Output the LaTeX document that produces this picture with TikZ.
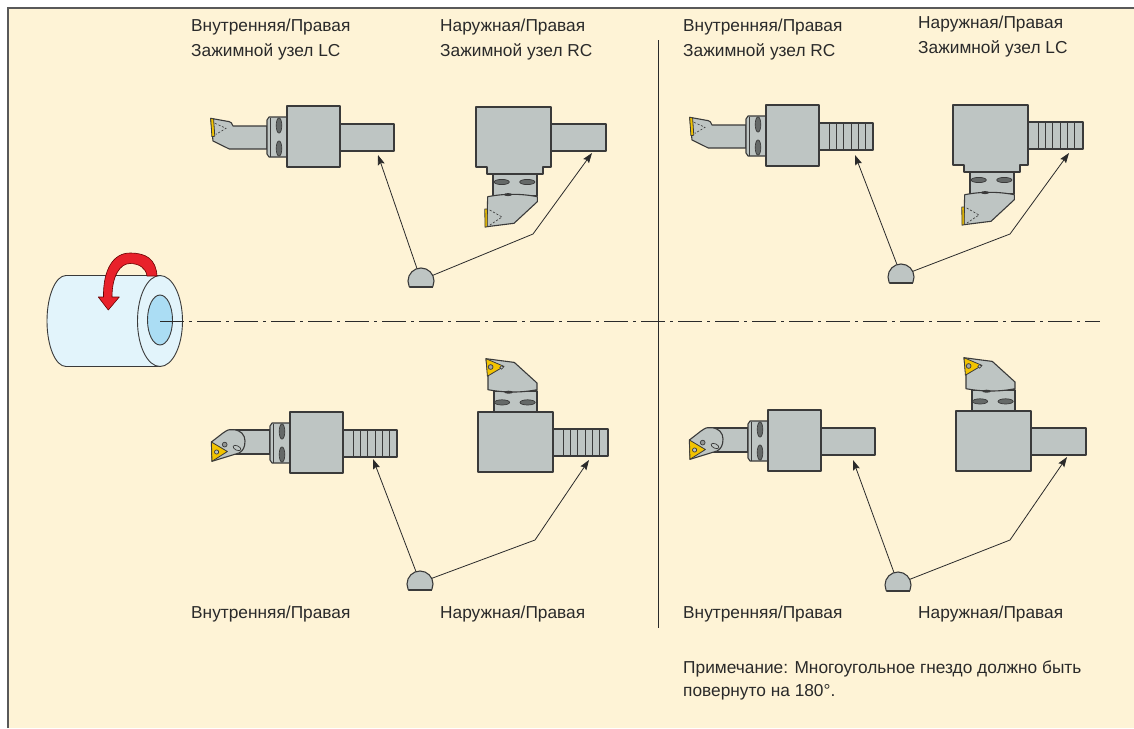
\documentclass[tikz,border=0pt]{standalone}
\usepackage{fontspec}
\setmainfont{Liberation Sans}
\usetikzlibrary{arrows.meta}

\definecolor{paper}{HTML}{FEF3D6}
\definecolor{toolgray}{HTML}{BEC5C3}
\definecolor{tooledge}{HTML}{3A3A3A}
\definecolor{slotgray}{HTML}{656968}
\definecolor{insertyellow}{HTML}{F2C300}
\definecolor{cylface}{HTML}{E2F4FB}
\definecolor{cylbore}{HTML}{ABDDF4}
\definecolor{spinred}{HTML}{E8212A}
\definecolor{inkgray}{HTML}{2A2A2A}

\tikzset{
  toolpart/.style={fill=toolgray, draw=tooledge, line width=1.1pt, line join=round},
  toolline/.style={draw=tooledge, line width=0.9pt},
  slotmark/.style={fill=slotgray, draw=tooledge, line width=0.7pt},
  insertpart/.style={fill=insertyellow, draw=tooledge, line width=0.8pt, line join=round},
  cutline/.style={draw=tooledge, line width=0.6pt, dash pattern=on 2.2pt off 1.6pt},
  leader/.style={draw=inkgray, line width=0.8pt, -{Stealth[length=10pt, width=7pt, inset=1.5pt]}},
  lbl/.style={font=\fontsize{17.3}{20}\selectfont, text=inkgray, inner sep=0pt, anchor=base west},
  frameline/.style={draw=black!65, line width=1.5pt},
}

% Boring bar holder: #1 origin (top-left of clamping block),
% #2 head style (1 = grooving insert, 2 = triangular insert), #3 serrated shank (0/1)
\newcommand{\InnerTool}[3]{%
  \begin{scope}[shift={#1}]
    % shank
    \filldraw[toolpart] (53,18) rectangle (107,45);
    \ifnum#3=1
      \foreach \k in {0,...,5} \draw[toolline] ({63.5+7.2*\k},18) -- ++(0,27);
    \fi
    % bar and cutting head
    \ifnum#2=1
      \filldraw[toolpart] (-20,20) -- (-54,20) .. controls (-55,17) and (-56,16) .. (-58,15.6)
        -- (-76.3,12.3) -- (-74,35) -- (-57.7,43) -- (-20,43) -- cycle;
      \filldraw[insertpart] (-76.3,12.3) -- (-73.4,13) -- (-72.2,30.2) -- (-75.1,30.6) -- cycle;
      \draw[cutline] (-72,17.3) -- (-61,22.3) -- (-71,28.3);
    \else
      \filldraw[toolpart] (-60,18) rectangle (-20,42);
      \filldraw[toolpart] (-78.6,30) -- (-67,21) .. controls (-62,17.6) .. (-57,17.7)
        .. controls (-49,18) and (-45,23) .. (-45,29) .. controls (-45,35) and (-47,39) .. (-51,41)
        -- (-64,45) -- (-78,49.3) -- cycle;
      \filldraw[fill=slotgray!70, draw=tooledge, line width=0.7pt] (-65.3,32.6) circle[radius=2.4];
      \draw[toolline, line width=0.7pt, rotate around={-25:(-53,36)}] (-53,36) ellipse[x radius=4.2, y radius=2.2];
      \filldraw[insertpart] (-78.6,30) -- (-62.6,39.5) -- (-78,49.3) -- cycle;
      \filldraw[fill=toolgray, draw=tooledge, line width=0.7pt] (-73.4,40) circle[radius=2.1];
    \fi
    % collar with clamping slots
    \filldraw[toolpart] (-18,11) -- (0,11) -- (0,51) -- (-18,51) -- (-20,48) -- (-20,14) -- cycle;
    \draw[toolline, line width=0.7pt] (-17,11.5) -- (-17,50.5);
    \filldraw[slotmark] (-8,19.5) ellipse[x radius=2.8, y radius=7.6];
    \filldraw[slotmark] (-8,42.5) ellipse[x radius=2.8, y radius=7.6];
    % clamping block
    \filldraw[toolpart] (0,0) rectangle (53,61);
  \end{scope}}

% External turning holder: #1 origin (top-left of block),
% #2 head direction (1 = down, 2 = up), #3 serrated shank (0/1)
\newcommand{\OuterTool}[3]{%
  \begin{scope}[shift={#1}]
    % shank
    \filldraw[toolpart] (75,17) rectangle (130,44);
    \ifnum#3=1
      \foreach \k in {0,...,5} \draw[toolline] ({85.5+7.2*\k},17) -- ++(0,27);
    \fi
    \ifnum#2=1
      % neck
      \filldraw[toolpart] (17,62) rectangle (61,89);
      \filldraw[slotmark] (25.7,75) ellipse[x radius=7.6, y radius=2.6];
      \filldraw[slotmark] (51.3,75) ellipse[x radius=7.6, y radius=2.6];
      % head
      \filldraw[toolpart] (11.7,89.7) .. controls (28,86.5) and (45,86.5) .. (61.3,89.7)
        -- (61.3,94.7) -- (38,116.3) -- (10.7,119.7) -- cycle;
      \fill[tooledge] (32,87.6) ellipse[x radius=4.2, y radius=1.5];
      \filldraw[insertpart] (8.8,102) -- (11.4,102) -- (11.2,119.7) -- (9,120.2) -- cycle;
      \draw[cutline] (13.7,103) -- (26,110) -- (14,118);
      % block with stepped base
      \filldraw[toolpart] (0,0) -- (75,0) -- (75,60) -- (67,60) -- (67,67) -- (11,67) -- (11,60) -- (0,60) -- cycle;
    \else
      % neck
      \filldraw[toolpart] (16,-21) rectangle (59,2);
      \filldraw[slotmark] (24,-9.6) ellipse[x radius=7.6, y radius=2.6];
      \filldraw[slotmark] (49.6,-9.6) ellipse[x radius=7.6, y radius=2.6];
      % head
      \filldraw[toolpart] (10,-22.3) .. controls (27,-19.2) and (43,-19.2) .. (59,-22.3)
        -- (59,-29) -- (36.3,-49.6) -- (8,-53.3) -- (10,-36) -- cycle;
      \fill[tooledge] (30.6,-19.8) ellipse[x radius=4.2, y radius=1.5];
      \filldraw[insertpart] (8,-53.3) -- (26,-45.6) -- (9.4,-35.8) -- cycle;
      \filldraw[fill=slotgray!60, draw=tooledge, line width=0.7pt] (12.6,-45) circle[radius=2.4];
      \filldraw[fill=toolgray, draw=tooledge, line width=0.6pt] (23.6,-44.6) circle[radius=1.8];
      % block
      \filldraw[toolpart] (0,0) rectangle (75,60);
    \fi
  \end{scope}}

% Reference point (dome) that the leader lines start from
\newcommand{\Dome}[2]{%
  \begin{scope}[shift={#2}]
    \coordinate (#1) at (0,0);
    \begin{scope}
      \clip (-15,-15) rectangle (15,6);
      \filldraw[toolpart] (0,0) circle[radius=13];
    \end{scope}
    \draw[toolpart] (-11.5,6) -- (11.5,6);
    \coordinate (#1-top) at (-4,-12.4);
    \coordinate (#1-side) at (11.6,-5.6);
  \end{scope}}

\begin{document}
\begin{tikzpicture}[x=1pt, y=-1pt]
  \useasboundingbox (0,0) rectangle (1134,728);
  \fill[white] (0,0) rectangle (1134,728);
  \fill[paper] (8,8) rectangle (1134,728);
  \draw[frameline] (8,728) -- (8,8) -- (1134,8);

  % spindle axis and quadrant divider
  \coordinate (axisA) at (160,321);
  \coordinate (axisB) at (1100,321);
  \coordinate (divA) at (658,40);
  \coordinate (divB) at (658,628);
  \draw[inkgray, line width=0.8pt] (divA) -- (divB);

  % workpiece
  \filldraw[fill=cylface, draw=tooledge, line width=0.9pt] (66,321) ellipse[x radius=19, y radius=45.5];
  \fill[cylface] (66,275.5) rectangle (160,366.5);
  \draw[tooledge, line width=0.9pt] (66,275.5) -- (160,275.5) (66,366.5) -- (160,366.5);
  \filldraw[fill=cylface, draw=tooledge, line width=0.9pt] (160,321) ellipse[x radius=22.5, y radius=45.5];
  \filldraw[fill=cylbore, draw=tooledge, line width=0.9pt] (160,320) ellipse[x radius=12.5, y radius=25];
  \draw[inkgray, line width=0.8pt, dash pattern=on 24pt off 5pt on 3pt off 5pt] (axisA) -- (axisB);

  % rotation arrow
  \filldraw[fill=spinred, draw=red!40!black, line width=0.6pt, line join=round]
    (157,276) .. controls (156,259) and (146,253) .. (130,253)
    .. controls (113,253) and (103,270) .. (103.5,297)
    -- (98.3,297) -- (108.3,310) -- (119.3,297) -- (112,297)
    .. controls (112,276) and (120,263.5) .. (130,263.5)
    .. controls (139,263.5) and (146,268) .. (147,276) -- cycle;

  % holders
  \InnerTool{(287,106)}{1}{0}
  \OuterTool{(476,107)}{1}{0}
  \InnerTool{(766,105)}{1}{1}
  \OuterTool{(953,105)}{1}{1}
  \InnerTool{(290,412)}{2}{1}
  \OuterTool{(478,412)}{2}{1}
  \InnerTool{(768,410)}{2}{0}
  \OuterTool{(956,411)}{2}{0}

  % shank targets and bends of the leader lines
  \coordinate (tA) at (378,155);
  \coordinate (tB) at (592,153);
  \coordinate (tC) at (855,155);
  \coordinate (tD) at (1069,153);
  \coordinate (tE) at (373,459);
  \coordinate (tF) at (589,460);
  \coordinate (tG) at (853,460);
  \coordinate (tH) at (1067,457);
  \coordinate (kB) at (533,234);
  \coordinate (kD) at (1010,234);
  \coordinate (kF) at (535,540);
  \coordinate (kH) at (1010,540);

  \Dome{dA}{(421,281)}
  \Dome{dB}{(901,277)}
  \Dome{dC}{(420,584)}
  \Dome{dD}{(898,585)}

  \draw[leader] (dA-top) -- (tA);
  \draw[leader] (dA-side) -- (kB) -- (tB);
  \draw[leader] (dB-top) -- (tC);
  \draw[leader] (dB-side) -- (kD) -- (tD);
  \draw[leader] (dC-top) -- (tE);
  \draw[leader] (dC-side) -- (kF) -- (tF);
  \draw[leader] (dD-top) -- (tG);
  \draw[leader] (dD-side) -- (kH) -- (tH);

  % captions
  \node[lbl] (c1a) at (191,31) {Внутренняя/Правая};
  \node[lbl] (c1b) at (191,56) {Зажимной узел LC};
  \node[lbl] (c2a) at (440,31) {Наружная/Правая};
  \node[lbl] (c2b) at (440,56) {Зажимной узел RC};
  \node[lbl] (c3a) at (683,31) {Внутренняя/Правая};
  \node[lbl] (c3b) at (683,56) {Зажимной узел RC};
  \node[lbl] (c4a) at (918,28) {Наружная/Правая};
  \node[lbl] (c4b) at (918,53) {Зажимной узел LC};

  \node[lbl] (c5) at (191,618) {Внутренняя/Правая};
  \node[lbl] (c6) at (440,618) {Наружная/Правая};
  \node[lbl] (c7) at (683,618) {Внутренняя/Правая};
  \node[lbl] (c8) at (918,618) {Наружная/Правая};

  \node[lbl] (n1) at (683,673) {Примечание: Многоугольное гнездо должно быть};
  \node[lbl] (n2) at (683,696) {повернуто на 180°.};
\end{tikzpicture}
\end{document}
